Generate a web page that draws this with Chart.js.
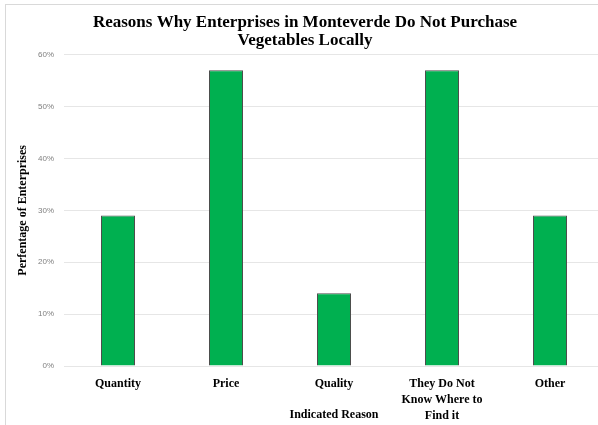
<!DOCTYPE html>
<html>
<head>
<meta charset="utf-8">
<script src="https://cdn.jsdelivr.net/npm/chart.js@4"></script>
<style>
	html, body { margin: 0; padding: 0; background: #fff; overflow: hidden; }
	#frame {
		position: absolute; left: 5px; top: 4px;
		width: 600px; height: 420px;
		border-left: 1px solid #d9d9d9; border-top: 1px solid #d9d9d9;
	}
</style>
</head>
<body>
<div id="frame"><canvas id="reasons-chart" width="600" height="420"></canvas></div>
<script>
const reasons = ["Quantity", "Price", "Quality", ["They Do Not", "Know Where to", "Find it"], "Other"];
const percentEnterprises = [29, 57, 14, 57, 29];
const percentTicks = [0, 10, 20, 30, 40, 50, 60];

const serif = "'Liberation Serif', 'Times New Roman', serif";

function drawReasons()
{
	const ctx = document.getElementById("reasons-chart").getContext("2d");

	new Chart(ctx, {
		type: "bar",
		data: {
			labels: reasons,
			datasets: [{
				data: percentEnterprises,
				backgroundColor: "#00b050",
				borderColor: "#4d4d4d",
				borderWidth: 1,
				categoryPercentage: 1,
				barPercentage: 0.315
			}]
		},
		options: {
			responsive: false,
			animation: false,
			layout: { padding: { right: 2 } },
			plugins: {
				legend: { display: false },
				tooltip: { enabled: false },
				title: {
					display: true,
					text: ["Reasons Why Enterprises in Monteverde Do Not Purchase", "Vegetables Locally"],
					color: "#000",
					font: { family: serif, size: 17, weight: "bold", lineHeight: 1.08 },
					padding: { top: 8, bottom: 5 }
				}
			},
			scales: {
				x: {
					grid: { display: false },
					border: { display: false },
					ticks: {
						color: "#000",
						padding: 2,
						maxRotation: 0,
						autoSkip: false,
						font: { family: serif, size: 12, weight: "bold", lineHeight: 1.33 }
					},
					title: {
						display: true,
						text: "Indicated Reason",
						color: "#000",
						font: { family: serif, size: 12, weight: "bold", lineHeight: 1.15 },
						padding: { top: 0, bottom: 3 }
					},
					afterFit: (scale) => { scale.height = 59; }
				},
				y: {
					min: 0,
					max: 60,
					afterBuildTicks: (scale) => { scale.ticks = percentTicks.map(v => ({ value: v })); },
					grid: { color: "#e6e6e6", drawTicks: false },
					border: { display: false },
					ticks: {
						color: "#7f7f7f",
						padding: 10,
						font: { family: "'Liberation Sans', Arial, sans-serif", size: 8 },
						callback: (v) => v + "%"
					},
					title: {
						display: true,
						text: "Perfentage of Enterprises",
						color: "#000",
						font: { family: serif, size: 12, weight: "bold", lineHeight: 1.2 },
						padding: { top: 10 }
					},
					afterFit: (scale) => { scale.width = 58; }
				}
			}
		}
	});
}

drawReasons();
</script>
</body>
</html>
